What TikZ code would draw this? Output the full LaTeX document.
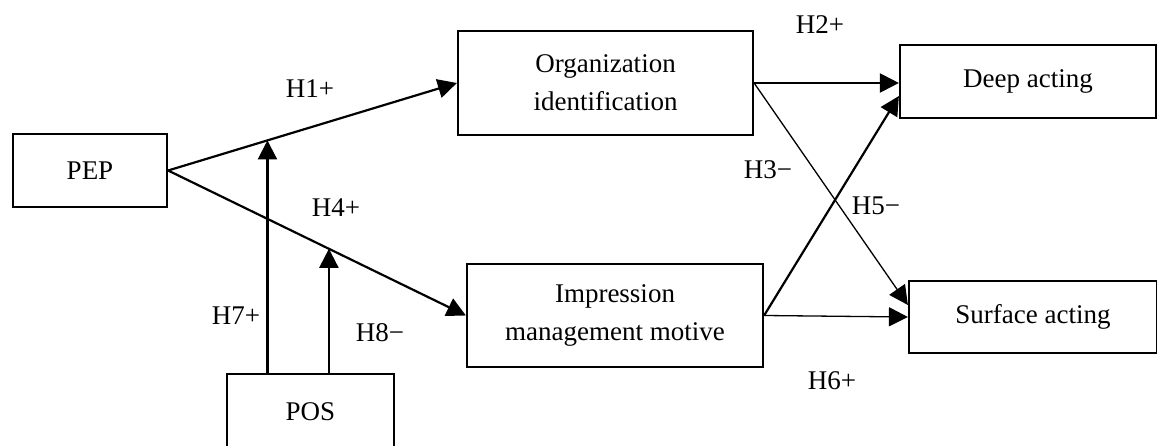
\documentclass[tikz,border=0pt]{standalone}
\usepackage{fontspec}
\setmainfont{Liberation Serif}
\usetikzlibrary{arrows.meta,calc}
\begin{document}
\begin{tikzpicture}[x=1pt,y=-1pt,
  box/.style={draw,line width=2.2pt,rectangle,inner sep=0pt,align=center,
    font=\fontsize{27}{38}\selectfont},
  link/.style={line width=2.2pt,-{Triangle[length=19pt,width=19pt]}},
  thinlink/.style={line width=1.3pt,-{Triangle[length=19pt,width=19pt]}},
  hyp/.style={font=\fontsize{27}{30}\selectfont,inner sep=0pt}]
\useasboundingbox (0,0) rectangle (1157,446);

% constructs
\node[box,minimum width=154pt,minimum height=73pt] (pep) at (90,170.5) {PEP};
\node[box,minimum width=295pt,minimum height=104pt] (org) at (605.5,83) {Organization\\identification};
\node[box,minimum width=296pt,minimum height=103pt] (imp) at (615,315.5) {Impression\\management motive};
\node[box,minimum width=256pt,minimum height=73pt] (deep) at (1028,81.5) {Deep acting};
\node[box,minimum width=248pt,minimum height=72pt] (surf) at (1033,317) {Surface acting};
\node[box,minimum width=167pt,minimum height=76pt] (pos) at (310.5,412) {POS};

% points on the PEP paths where POS moderates
\coordinate (m1) at ($(pep.east)!0.344!(org.west)$);
\coordinate (m2) at ($(pep.east)!0.54!(imp.west)$);

% direct paths
\draw[link] (pep.east) -- (org.west);
\draw[link] (pep.east) -- (imp.west);
\draw[link] (org.east) -- (deep.west |- org.east);
\draw[thinlink] (org.east) -- ($(surf.west)+(0,-12)$);
\draw[link] (imp.east) -- ($(deep.west)+(0,14.5)$);
\draw[thinlink] (imp.east) -- (surf.west);

% moderation paths
\draw[link] (m1 |- pos.north) -- (m1);
\draw[link] (m2 |- pos.north) -- (m2);

% hypothesis labels
\node[hyp] (h1) at (310,89) {H1+};
\node[hyp] (h2) at (820,25) {H2+};
\node[hyp] (h3) at (768,170) {H3−};
\node[hyp] (h4) at (336,208) {H4+};
\node[hyp] (h5) at (876,206) {H5−};
\node[hyp] (h6) at (832,381) {H6+};
\node[hyp] (h7) at (236,316) {H7+};
\node[hyp] (h8) at (380,333) {H8−};
\end{tikzpicture}
\end{document}
